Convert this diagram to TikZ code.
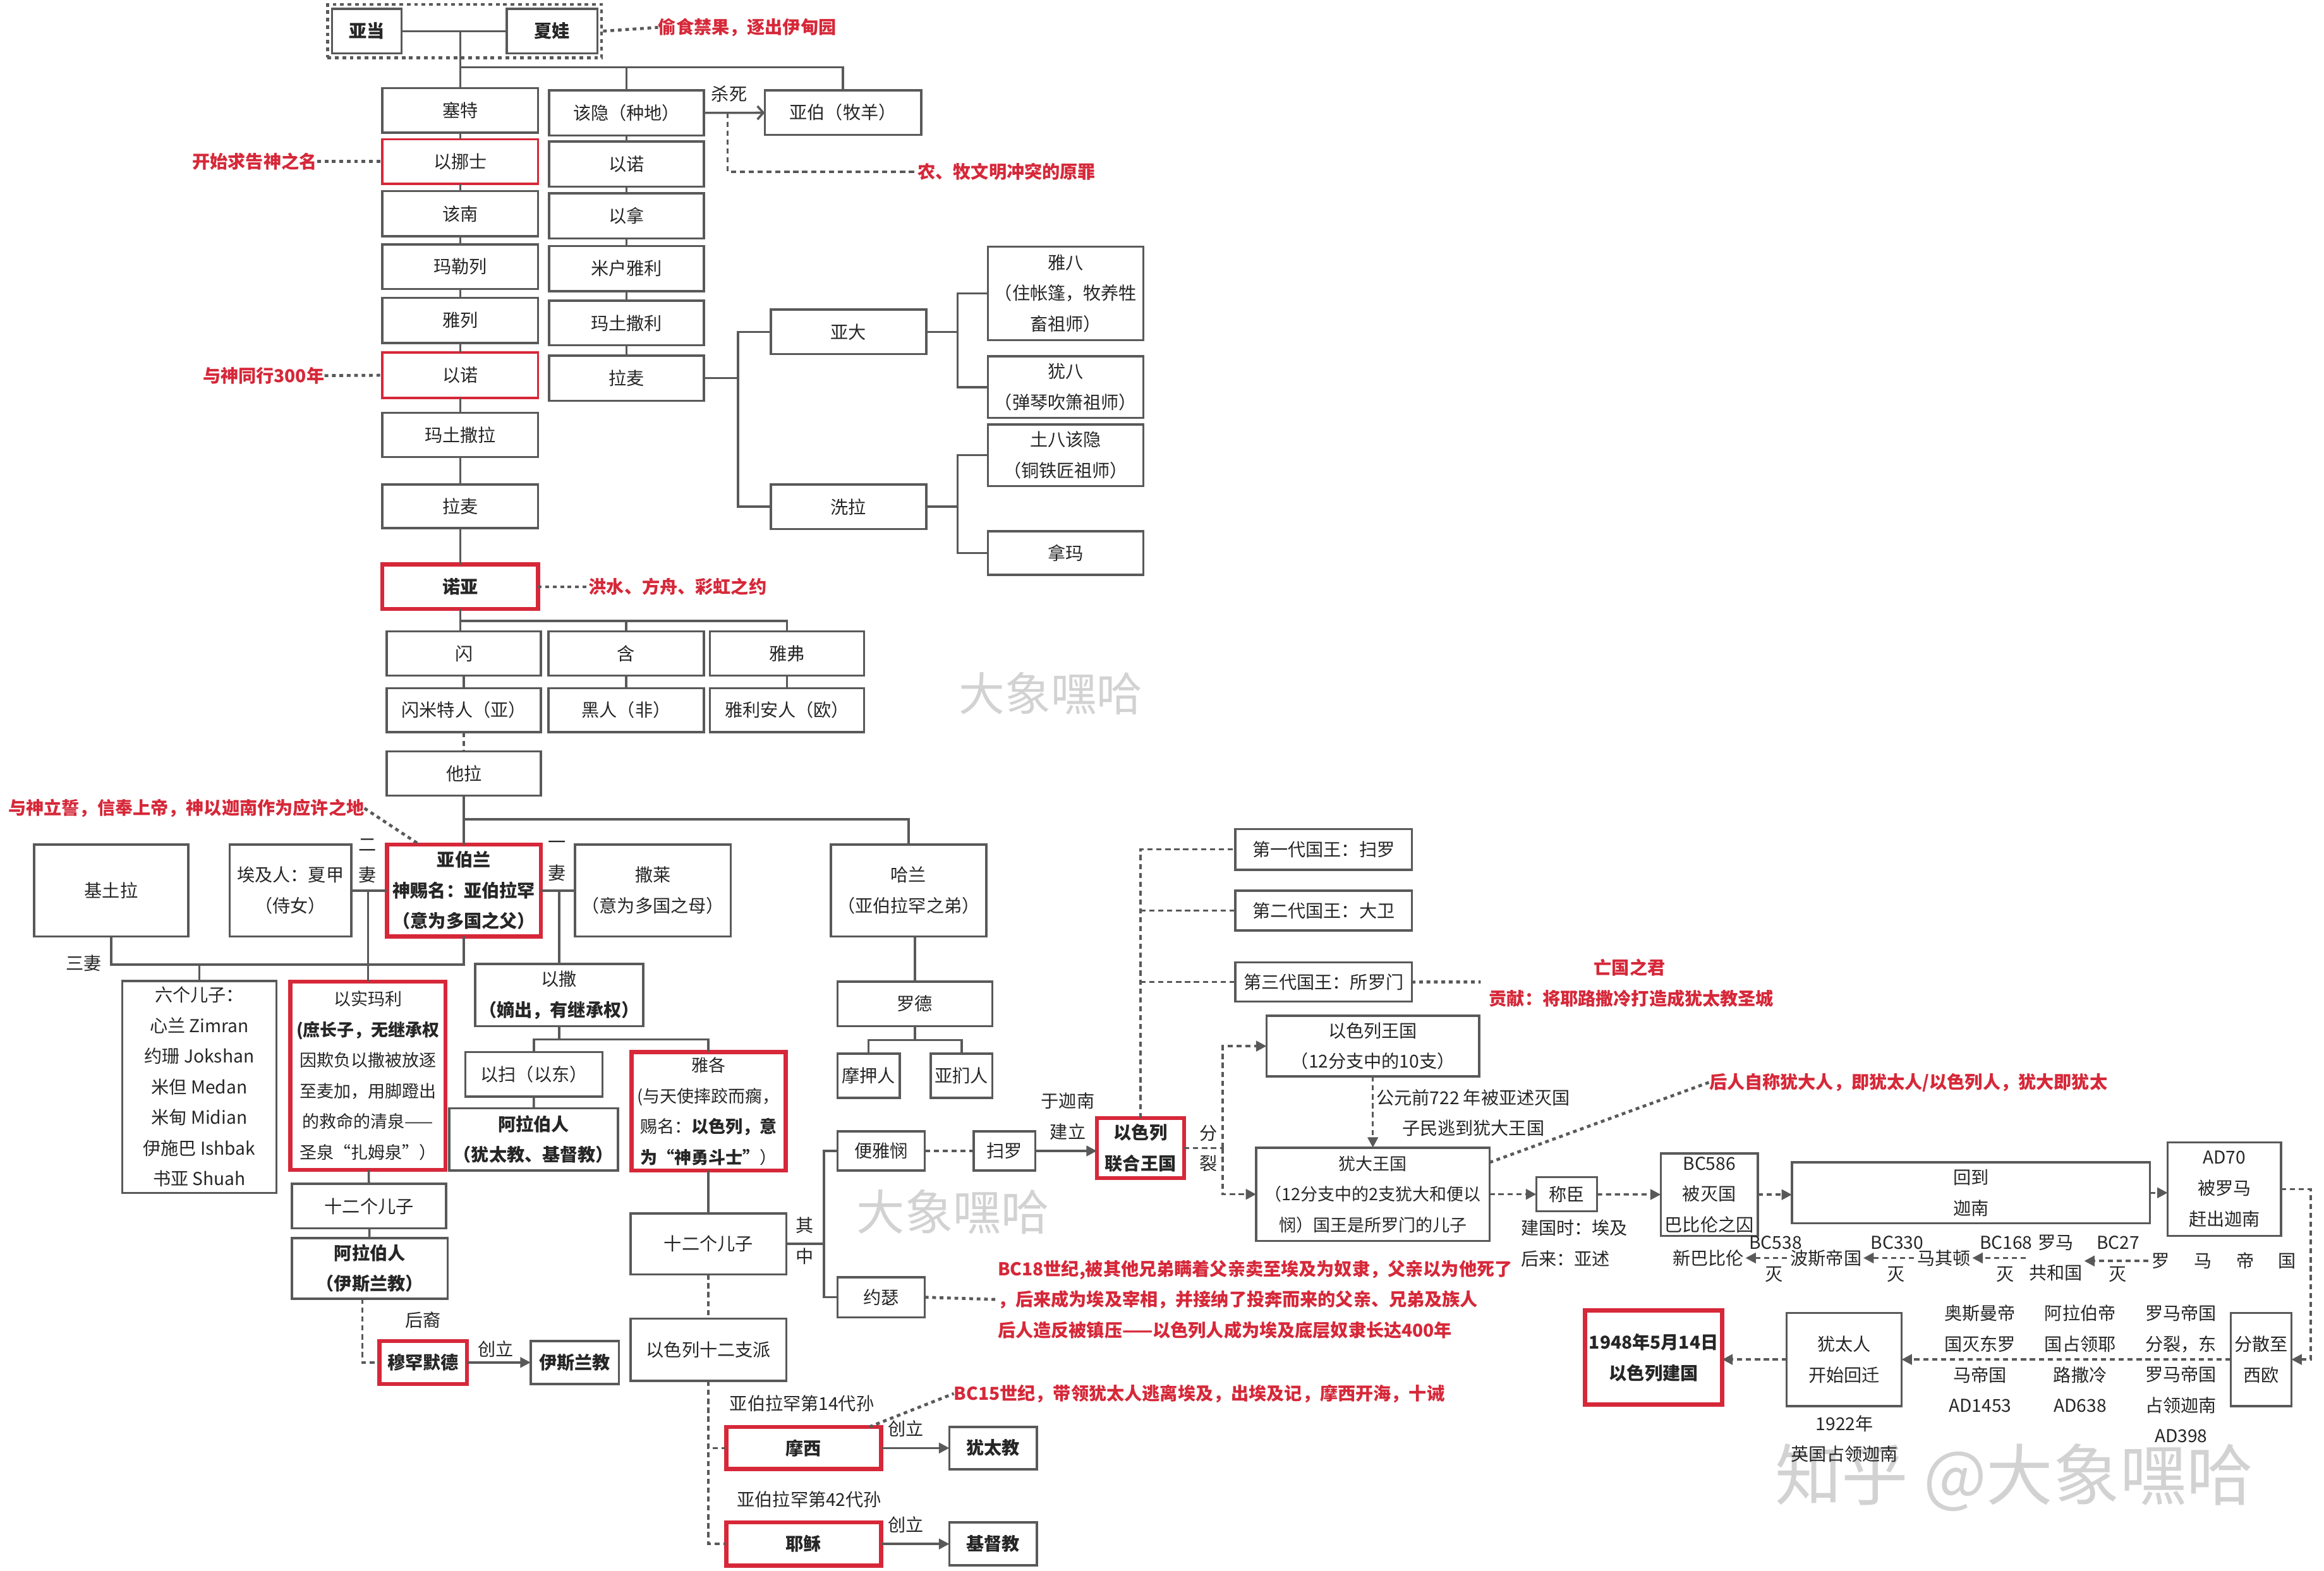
\documentclass[tikz,border=0pt]{standalone}
\usepackage{fontspec}
\setmainfont{Noto Sans CJK SC}
\usetikzlibrary{arrows.meta,fit,calc}
\definecolor{lc}{HTML}{595959}
\definecolor{tc}{HTML}{262626}
\definecolor{rc}{HTML}{D62839}
\definecolor{wmc}{HTML}{D2D2D2}
\newcommand\fz{\fontsize{12}{20.7}\selectfont}
\newcommand\fzs{\fontsize{11.5}{20.7}\selectfont}
\newcommand\bx[7][bx]{\node[#1,minimum width={(#4-#2)*1pt},minimum height={(#5-#3)*1pt}] (#6) at ({(#2+#4)/2},{(#3+#5)/2}) {#7};}
\begin{document}
\begin{tikzpicture}[x=1pt,y=-1pt,
 bx/.style={draw=lc,line width=1.5pt,fill=white,inner sep=0pt,outer sep=0pt,align=center,text=tc,font=\fz},
 rbx/.style={bx,draw=rc,line width=1.6pt},
 rbk/.style={bx,draw=rc,line width=2.8pt},
 ln/.style={draw=lc,line width=1.5pt},
 dl/.style={draw=lc,line width=1.5pt,dash pattern=on 3.5pt off 2.5pt},
 dotl/.style={draw=lc,line width=2pt,dash pattern=on 2.5pt off 2.5pt},
 tip/.style={-{Triangle[length=7pt,width=7pt]}},
 al/.style={ln,tip},
 dal/.style={dl,tip},
 ann/.style={text=rc,font=\fz\bfseries,inner sep=0pt,anchor=west,align=left},
 lbl/.style={text=tc,font=\fz,inner sep=0pt,align=center},
 wm/.style={text=wmc,inner sep=0pt}
]
\fill[white] (0,0) rectangle (1568,1060);
\useasboundingbox (0,0) rectangle (1568,1060);
% watermarks
\node[wm,font=\fontsize{31}{31}\selectfont] (wm1) at (709,468) {大象嘿哈};
\node[wm,font=\fontsize{32.5}{32.5}\selectfont] (wm2) at (643,818) {大象嘿哈};
\node[wm,font=\fontsize{45}{45}\selectfont] (wm3) at (1359,997) {知乎 @大象嘿哈};

% top
\bx{224}{6}{271}{36}{adam}{\textbf{亚当}}
\bx{342}{6}{403}{36}{eve}{\textbf{夏娃}}
\node[draw=lc,line width=1.8pt,dash pattern=on 2.5pt off 2.5pt,inner xsep=3pt,inner ysep=3pt,fit=(adam)(eve)] (eden) {};
\node[ann] (n1) at (444,18.5) {偷食禁果，逐出伊甸园};

% column 1
\bx{258}{59.5}{363}{89.5}{seth}{塞特}
\bx[rbx]{258}{94}{363}{124}{enosh}{以挪士}
\bx{258}{129}{363}{159.5}{kenan}{该南}
\bx{258}{165}{363}{195}{mahal}{玛勒列}
\bx{258}{201}{363}{231.5}{jared}{雅列}
\bx[rbx]{258}{238}{363}{268.5}{enoch}{以诺}
\bx{258}{278.5}{363}{308.5}{methu}{玛土撒拉}
\bx{258}{327}{363}{356.5}{lamech}{拉麦}
\bx[rbk]{258}{381}{363}{411}{noah}{\textbf{诺亚}}

% column 2
\bx{370.5}{61}{475}{91.5}{cain}{该隐（种地）}
\bx{370.5}{95.5}{475}{126}{enoch2}{以诺}
\bx{370.5}{130.5}{475}{161}{irad}{以拿}
\bx{370.5}{166}{475}{196.5}{mehu}{米户雅利}
\bx{370.5}{203}{475}{233}{methus}{玛土撒利}
\bx{370.5}{240}{475}{270.5}{lamech2}{拉麦}
\bx{516}{61}{621.5}{91}{abel}{亚伯（牧羊）}
\bx{520}{209}{625}{239}{adah}{亚大}
\bx{520}{327}{625}{357}{zillah}{洗拉}
\bx{666.5}{166.5}{771.5}{229.5}{jabal}{雅八\\（住帐篷，牧养牲\\畜祖师）}
\bx{666.5}{240.5}{771.5}{282}{jubal}{犹八\\（弹琴吹箫祖师）}
\bx{666.5}{286.5}{771.5}{328}{tubal}{土八该隐\\（铜铁匠祖师）}
\bx{666.5}{358.5}{771.5}{388}{naamah}{拿玛}

% Noah's sons
\bx{261}{426}{365}{456}{shem}{闪}
\bx{370}{426}{475}{456}{ham}{含}
\bx{479}{426}{583}{456}{japh}{雅弗}
\bx{261}{464.5}{365}{494}{sem}{闪米特人（亚）}
\bx{370}{464.5}{475}{494}{black}{黑人（非）}
\bx{479}{464.5}{583}{494}{aryan}{雅利安人（欧）}
\bx{261}{507}{365}{537}{terah}{他拉}

% Abraham row
\bx{23}{570}{127}{632}{ket}{基土拉}
\bx{155}{570}{237}{632}{hagar}{埃及人：夏甲\\（侍女）}
\bx[rbk]{261}{570}{365}{632}{abram}{\textbf{亚伯兰}\\\textbf{神赐名：亚伯拉罕}\\\textbf{（意为多国之父）}}
\bx{388}{570}{493}{632}{sarai}{撒莱\\（意为多国之母）}
\bx{560.5}{570}{665.5}{632}{haran}{哈兰\\（亚伯拉罕之弟）}

\bx{82.5}{662}{186.5}{805}{six}{六个儿子：\\心兰 Zimran\\约珊 Jokshan\\米但 Medan\\米甸 Midian\\伊施巴 Ishbak\\书亚 Shuah}
\bx[rbk,font=\fzs]{196}{662.5}{300.5}{789.5}{ishm}{以实玛利\\\textbf{(庶长子，无继承权}\\因欺负以撒被放逐\\至麦加，用脚蹬出\\的救命的清泉——\\圣泉“扎姆泉”）}
\bx{197}{799}{301}{829}{s12a}{十二个儿子}
\bx{197}{835.5}{302}{876.5}{arab1}{\textbf{阿拉伯人}\\\textbf{（伊斯兰教）}}
\bx[rbk]{256}{905}{315}{934}{muh}{\textbf{穆罕默德}}
\bx{358}{905}{417.5}{934}{islam}{\textbf{伊斯兰教}}

\bx{320.5}{650.5}{434}{692.5}{isaac}{以撒\\\textbf{（嫡出，有继承权）}}
\bx{314}{710}{406.5}{740}{esau}{以扫（以东）}
\bx{303}{748}{417}{790}{arab2}{\textbf{阿拉伯人}\\\textbf{（犹太教、基督教）}}
\bx[rbk,font=\fzs]{426}{710}{530}{790}{jacob}{雅各\\(与天使摔跤而瘸，\\赐名：\textbf{以色列，意}\\\textbf{为“神勇斗士”}）}
\bx{425.5}{819}{530.5}{860}{s12b}{十二个儿子}
\bx{565}{763.5}{624}{790}{benj}{便雅悯}
\bx{565}{862}{624}{889}{joseph}{约瑟}
\bx{657}{763.5}{698.5}{790}{saul}{扫罗}
\bx[rbk]{740}{754.5}{799}{795}{umk}{\textbf{以色列}\\\textbf{联合王国}}
\bx{425.5}{890}{530.5}{932}{tribes}{以色列十二支派}
\bx[rbk]{490}{963}{594.5}{991.5}{moses}{\textbf{摩西}}
\bx[rbk]{490}{1027.5}{594.5}{1056.5}{jesus}{\textbf{耶稣}}
\bx{640.5}{963}{699.5}{991.5}{judaism}{\textbf{犹太教}}
\bx{640.5}{1027.5}{699.5}{1056.5}{christ}{\textbf{基督教}}

% Haran line
\bx{565}{662.5}{669.5}{692.5}{lot}{罗德}
\bx{565}{711}{607}{741}{moab}{摩押人}
\bx{628}{711}{669.5}{741}{ammon}{亚扪人}

% kings and kingdoms
\bx{833.5}{559.5}{952.5}{587}{k1}{第一代国王：扫罗}
\bx{833.5}{601}{952.5}{628}{k2}{第二代国王：大卫}
\bx{833.5}{649.5}{952.5}{676}{k3}{第三代国王：所罗门}
\bx{854.5}{685.5}{998}{726.5}{israel}{以色列王国\\（12分支中的10支）}
\bx[bx,font=\fzs]{847.5}{774.5}{1005}{837.5}{judah}{犹大王国\\（12分支中的2支犹大和便以\\悯）国王是所罗门的儿子}
\bx{1036.5}{794.5}{1077.5}{817.5}{chen}{称臣}
\bx{1120.5}{778.5}{1186}{834}{bc586}{BC586\\被灭国\\巴比伦之囚}
\bx{1209}{784.5}{1450.5}{825.5}{back}{回到\\迦南}
\bx{1462.5}{771}{1539}{834}{ad70}{AD70\\被罗马\\赶出迦南}
\bx{1505}{886}{1546}{949}{dias}{分散至\\西欧}
\bx{1205.5}{886}{1283}{949}{ret}{犹太人\\开始回迁}
\bx[rbk]{1069.5}{884.5}{1162}{948}{y48}{\textbf{1948年5月14日}\\\textbf{以色列建国}}

% annotations
\node[ann] (n2) at (619,116) {农、牧文明冲突的原罪};
\node[ann,anchor=east] (n3) at (214,109) {开始求告神之名};
\node[ann,anchor=east] (n4) at (219,253.5) {与神同行300年};
\node[ann] (n5) at (397,396) {洪水、方舟、彩虹之约};
\node[ann] (n6) at (5.5,545.5) {与神立誓，信奉上帝，神以迦南作为应许之地};
\node[ann] (n7) at (673,877) {BC18世纪,被其他兄弟瞒着父亲卖至埃及为奴隶，父亲以为他死了\\，后来成为埃及宰相，并接纳了投奔而来的父亲、兄弟及族人\\后人造反被镇压——以色列人成为埃及底层奴隶长达400年};
\node[ann] (n8) at (643.5,940.5) {BC15世纪，带领犹太人逃离埃及，出埃及记，摩西开海，十诫};
\node[ann,anchor=center] (n9) at (1099.5,653) {亡国之君};
\node[ann] (n10) at (1004.5,674) {贡献：将耶路撒冷打造成犹太教圣城};
\node[ann] (n11) at (1153,730.5) {后人自称犹大人，即犹太人/以色列人，犹大即犹太};

% labels
\node[lbl] (kill) at (492,63.5) {杀死};
\node[lbl] (l2) at (248,581) {二\\妻};
\node[lbl] (l1) at (376,581) {一\\妻};
\node[lbl] (l3) at (56.5,650) {三妻};
\node[lbl] (l4) at (285.5,891) {后裔};
\node[lbl] (l5) at (334.5,910.5) {创立};
\node[lbl] (l6) at (543,837.5) {其\\中};
\node[lbl] (l7) at (720.5,753.5) {于迦南\\建立};
\node[lbl] (l8) at (541,947) {亚伯拉罕第14代孙};
\node[lbl] (l9) at (546,1012) {亚伯拉罕第42代孙};
\node[lbl] (l10) at (611,964) {创立};
\node[lbl] (l11) at (611,1029) {创立};
\node[lbl] (l12) at (815.5,775) {分\\裂};
\node[lbl] (l13) at (994,751) {公元前722 年被亚述灭国\\子民逃到犹大王国};
\node[lbl,anchor=west,align=left] (l14) at (1026,839) {建国时：埃及\\后来：亚述};
\node[lbl] (nb) at (1152.5,849) {新巴比伦};
\node[lbl] (pers) at (1232,849) {波斯帝国};
\node[lbl] (mace) at (1311.5,849) {马其顿};
\node[lbl] (rrep) at (1387,849) {罗马\\共和国};
\node[lbl] (remp) at (1500.5,851) {罗\hspace{16.5pt}马\hspace{16.5pt}帝\hspace{16.5pt}国};
\node[lbl] (d1) at (1198,838.5) {BC538};
\node[lbl] (d2) at (1280,838.5) {BC330};
\node[lbl] (d3) at (1353.5,838.5) {BC168};
\node[lbl] (d4) at (1429,838.5) {BC27};
\node[lbl] (m1) at (1197,860) {灭};
\node[lbl] (m2) at (1279,860) {灭};
\node[lbl] (m3) at (1353,860) {灭};
\node[lbl] (m4) at (1429,860) {灭};
\node[lbl] (c1) at (1336,917) {奥斯曼帝\\国灭东罗\\马帝国\\AD1453};
\node[lbl] (c2) at (1403.5,917) {阿拉伯帝\\国占领耶\\路撒冷\\AD638};
\node[lbl] (c3) at (1471.5,927.2) {罗马帝国\\分裂，东\\罗马帝国\\占领迦南\\AD398};
\node[lbl] (c4) at (1244.5,971) {1922年\\英国占领迦南};

% connectors: top
\coordinate (ae) at (seth.north |- adam.east);
\draw[ln] (adam) -- (eve);
\coordinate (b1) at (0,45.5);
\draw[ln] (ae) -- (seth.north);
\draw[ln] (ae |- b1) -| (abel.north);
\draw[ln] (cain.north |- b1) -- (cain.north);
\draw[dotl] (eden.east |- eve.east) -- (n1.west);
\foreach \a/\b in {seth/enosh,enosh/kenan,kenan/mahal,mahal/jared,jared/enoch,enoch/methu,methu/lamech,lamech/noah,cain/enoch2,enoch2/irad,irad/mehu,mehu/methus,methus/lamech2}
  \draw[ln] (\a) -- (\b);
\draw[ln,-{Straight Barb[length=4pt,width=9pt]}] (cain) -- (abel);
\coordinate (kd) at (491,76.2);
\draw[dl] (kd) |- (n2.west);
\draw[dotl] (n3.east) -- (enosh.west);
\draw[dotl] (n4.east) -- (enoch.west);
\draw[dotl] (noah.east) -- (n5.west);

% Lamech (Cain line)
\coordinate (lv) at (498,0);
\draw[ln] (lamech2.east) -- (lamech2.east -| lv);
\draw[ln] (adah.west) -- (adah.west -| lv) -- (zillah.west -| lv) -- (zillah.west);
\coordinate (av) at (646,0);
\draw[ln] (adah.east) -- (adah.east -| av);
\draw[ln] (jabal.west) -- (jabal.west -| av) -- (jubal.west -| av) -- (jubal.west);
\draw[ln] (zillah.east) -- (zillah.east -| av);
\draw[ln] (tubal.west) -- (tubal.west -| av) -- (naamah.west -| av) -- (naamah.west);

% Noah
\coordinate (b2) at (0,419);
\draw[ln] (noah.south) -- (noah.south |- shem.north);
\draw[ln] (noah.south |- b2) -| (japh.north);
\draw[ln] (ham.north |- b2) -- (ham.north);
\draw[ln] (shem) -- (sem);
\draw[ln] (ham) -- (black);
\draw[ln] (japh) -- (aryan);
\draw[dl] (sem) -- (terah);
\coordinate (b3) at (0,553);
\draw[ln] (terah) -- (abram);
\draw[ln] (terah.south |- b3) -| (haran.north);
\draw[dotl] (n6.east) -- ([xshift=22pt]abram.north west);

% wives
\coordinate (yw) at (0,601);
\draw[ln] (hagar.east |- yw) -- (abram.west |- yw);
\draw[ln] (abram.east |- yw) -- (sarai.west |- yw);
\draw[ln] (ishm.north |- yw) -- (ishm.north);
\draw[ln] (isaac.north |- yw) -- (isaac.north);
\coordinate (yk) at (0,651);
\draw[ln] (ket.south) |- (abram.south |- yk) -- (abram.south);
\draw[ln] (six.north |- yk) -- (six.north);

% Ishmael
\draw[ln] (ishm) -- (s12a);
\draw[ln] (s12a) -- (arab1);
\coordinate (dm) at ([xshift=-5pt]arab1.south);
\draw[dl] (dm) |- (muh.west);
\draw[al] (muh) -- (islam);

% Isaac / Jacob
\coordinate (yi) at (0,701.5);
\draw[ln] (isaac.south) -- (isaac.south |- yi);
\draw[ln] (esau.north) |- (jacob.north |- yi) -- (jacob.north);
\draw[ln] (esau) -- (arab2);
\draw[ln] (jacob) -- (s12b);
\coordinate (jv) at (556,0);
\draw[ln] (s12b.east) -- (s12b.east -| jv);
\draw[ln] (benj.west) -- (benj.west -| jv) -- (joseph.west -| jv) -- (joseph.west);
\draw[dl] (benj) -- (saul);
\draw[al] (saul.east) -- (saul.east -| umk.west);
\draw[dotl] (joseph.east) -- (n7.west);
\draw[dl] (s12b) -- (tribes);
\draw[dl] (tribes.south) |- (moses.west);
\draw[dl] (tribes.south) |- (jesus.west);
\draw[al] (moses) -- (judaism);
\draw[al] (jesus) -- (christ);
\draw[dotl] ([xshift=-8pt]moses.north east) -- (n8.west);

% Haran
\draw[ln] (lot.north |- haran.south) -- (lot.north);
\coordinate (yl) at (0,702);
\draw[ln] (lot.south) -- (lot.south |- yl);
\draw[ln] (moab.north) |- (ammon.north |- yl) -- (ammon.north);

% kings
\draw[dl] (umk.north) |- (k1.west);
\draw[dl] (umk.north |- k2.west) -- (k2.west);
\draw[dl] (umk.north |- k3.west) -- (k3.west);
\coordinate (k3e) at (999,662.7);
\draw[dotl] (k3.east) -- (k3e);
\coordinate (sv) at (825,0);
\draw[dl] (umk.east) -- (umk.east -| sv);
\draw[dal] (umk.east -| sv) |- (israel.west);
\draw[dal] (umk.east -| sv) |- (judah.west);
\draw[dal] (israel) -- (judah);
\draw[dotl] ([yshift=-10pt]judah.north east) -- (n11.west);
\draw[dal] (judah) -- (chen);
\draw[dal] (chen) -- (bc586);
\draw[dal] (bc586.east) -- (bc586.east -| back.west);
\draw[dal] (back.east) -- (back.east -| ad70.west);
\coordinate (rv) at (1559,0);
\draw[dal] (ad70.east) -- (ad70.east -| rv) |- (dias.east);
\draw[dal] (dias) -- (ret);
\draw[dal] (ret.west) -- (ret.west -| y48.east);
\draw[dal,shorten >=1pt,shorten <=2pt] (remp.west) -- (remp.west -| rrep.east);
\draw[dal,shorten >=1pt,shorten <=2pt] (rrep.west) -- (mace.east);
\draw[dal,shorten >=1pt,shorten <=2pt] (mace.west) -- (pers.east);
\draw[dal,shorten >=1pt,shorten <=2pt] (pers.west) -- (nb.east);
\end{tikzpicture}
\end{document}
